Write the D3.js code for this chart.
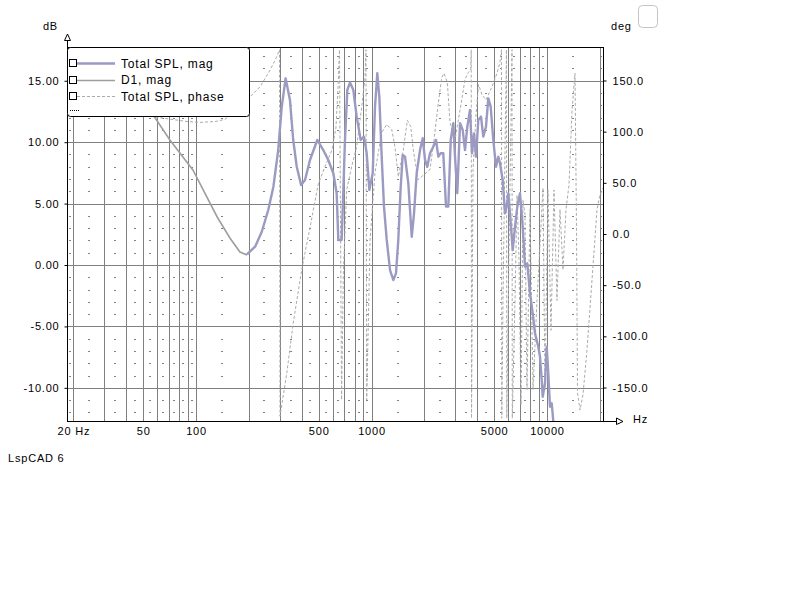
<!DOCTYPE html>
<html>
<head>
<meta charset="utf-8">
<script src="https://cdn.jsdelivr.net/npm/d3@7"></script>
<style>
  body { margin: 0; background: #fff; }
  svg { display: block; font-family: "Liberation Sans", Arial, sans-serif; }
</style>
</head>
<body>
<svg id="chart" width="800" height="600"></svg>
<script>
// axis ticks
const freqTicks = [20, 50, 100, 500, 1000, 5000, 10000];
const freqTickLabels = ["20 Hz", "50", "100", "500", "1000", "5000", "10000"];
const dbTicks = [-10, -5, 0, 5, 10, 15];
const degTicks = [-150, -100, -50, 0, 50, 100, 150];

// Total SPL, mag
const splFreq = [195,217,237,258,276,294,308,324,343,358,
  375,397,418,446,491,531,567,606,633,647,
  676,691,706,728,754,788,823,868,906,939,
  972,1016,1047,1079,1108,1143,1178,1221,1275,1331,
  1379,1421,1467,1506,1552,1621,1695,1747,1809,1890,
  1958,2018,2079,2154,2249,2331,2403,2479,2565,2658,
  2739,2827,2925,2991,3082,3194,3309,3410,3515,3641,
  3738,3837,3939,4060,4206,4335,4491,4629,4777,4943,
  5121,5278,5397,5592,5763,5893,6018,6154,6376,6572,
  6773,7017,7270,7493,7722,8001,8289,8543,8922,9123,
  9329,9452,9741,9961,10170,10400,10640,10860,11030];
const splDb = [0.86,1.49,2.71,4.48,6.38,9.36,12.89,15.2,13.44,10.18,
  8.0,6.51,6.92,8.55,10.18,9.36,8.55,7.47,5.84,2.04,
  2.04,6.11,10.18,14.25,14.85,14.25,12.08,10.18,10.45,9.1,
  6.11,7.47,12.89,15.61,13.7,8.82,4.75,2.04,-0.41,-1.22,
  -0.68,2.04,6.38,8.96,8.82,6.65,2.3,4.21,7.47,9.36,
  10.32,8.55,8.0,9.1,9.63,10.18,8.82,9.1,9.1,4.75,
  4.75,10.18,11.54,8.82,5.84,11.54,10.99,9.36,11.26,12.62,
  9.1,10.72,8.82,11.81,12.08,10.45,11.26,13.57,12.89,10.18,
  8.0,8.82,8.28,6.92,4.21,4.75,5.84,4.21,1.22,3.12,
  4.75,5.84,3.12,-0.14,0.14,-2.3,-3.93,-5.56,-6.65,-7.47,
  -9.36,-10.72,-9.63,-6.65,-8.82,-11.54,-11.26,-12.7,-14];

// D1, mag
const d1Freq = [18.4,28.4,42,57,71,96,132,156,178,195];
const d1Db = [16.86,15.88,14.09,12.21,10.18,7.74,3.91,2.2,1.06,0.81];

// Total SPL, phase (wrapped, deg)
const phaseFreq = [18.4,32.4,54.7,87.7,105,130,146,167,195,232,
  264,286,299,301,329,358,400,446,496,543,
  595,627,644,657,675,691,722,771,823,879,
  918,930,939,981,1047,1143,1221,1304,1361,1421,
  1518,1600,1673,1731,1841,1991,2154,2270,2403,2512,
  2589,2704,2802,2991,3266,3410,3562,3675,3700,3715,
  3788,3939,4072,4263,4491,4860,5190,5397,5504,5526,
  5614,5763,5877,5900,6073,6235,6317,6342,6572,6747,
  6926,7110,7300,7493,7691,8001,8322,8770,9489,9741,
  10130,10540,10960,11400,11860,12340,12830,13350,13890,14440,
  14730,14920,15420,16040,16900,18050,19270,20040,20850];
const phaseDeg = [131,123,115,110,109,110,112,119,131,144,
  160,172,180,-178,-136,-87,-35,6,48,66,
  82,104,141,180,-162,-38,43,66,85,124,
  152,180,-162,-6,60,99,107,102,85,56,
  82,111,105,82,53,58,63,92,128,153,
  157,148,109,92,131,151,158,160,180,-180,
  63,116,146,136,131,144,157,168,180,-180,
  -65,82,180,-180,-16,111,180,-180,-65,38,
  -25,-167,33,19,-152,24,-152,-65,45,-152,
  43,-94,43,-65,24,-35,24,48,121,157,
  4,-155,-172,-157,-113,-45,24,38,45];

const legendNames = ["Total SPL, mag", "D1, mag", "Total SPL, phase"];

const plotLeft = 67, plotRight = 603, plotTop = 47, plotBottom = 421;

const svg = d3.select("#chart");

const x = d3.scaleLog().domain([18.4, 20850]).range([plotLeft, plotRight]);
const yDb = d3.scaleLinear().domain([-12.7, 17.75]).range([plotBottom, plotTop]);
const yDeg = d3.scaleLinear().domain([-182.7, 182.7]).range([plotBottom, plotTop]);

const px = v => Math.round(v) + 0.5;

// grid: 1..9 per decade
const gridFreqs = [];
[10, 100, 1000, 10000].forEach(dec => {
  for (let k = 1; k <= 9; k++) {
    const f = dec * k;
    if (f >= 20 && f <= 20000) gridFreqs.push(f);
  }
});

const grid = svg.append("g").attr("shape-rendering", "crispEdges");

grid.selectAll("line.v")
  .data(gridFreqs)
  .enter()
  .append("line")
  .attr("x1", d => px(x(d)))
  .attr("x2", d => px(x(d)))
  .attr("y1", plotTop)
  .attr("y2", plotBottom)
  .attr("stroke", "#808080");

grid.selectAll("line.h")
  .data(dbTicks)
  .enter()
  .append("line")
  .attr("x1", plotLeft)
  .attr("x2", plotRight)
  .attr("y1", d => px(yDb(d)))
  .attr("y2", d => px(yDb(d)))
  .attr("stroke", "#808080");

// dotted 1 dB grid: one short dash in the middle of each gap
const bounds = [x.domain()[0]].concat(gridFreqs, [x.domain()[1]]);
const mids = d3.pairs(bounds).map(p => Math.sqrt(p[0] * p[1]));
const minorDb = d3.range(-12, 18).filter(d => d % 5 !== 0);
minorDb.forEach(db => {
  grid.selectAll(null)
    .data(mids)
    .enter()
    .append("rect")
    .attr("x", d => Math.round(x(d)) - 1)
    .attr("y", Math.round(yDb(db)))
    .attr("width", 2)
    .attr("height", 1)
    .attr("fill", "#808080");
});

// curves
svg.append("clipPath").attr("id", "plot")
  .append("rect")
  .attr("x", plotLeft).attr("y", plotTop)
  .attr("width", plotRight - plotLeft).attr("height", plotBottom - plotTop);

const curves = svg.append("g").attr("clip-path", "url(#plot)");

const phaseLine = d3.line()
  .x((d, i) => x(phaseFreq[i]))
  .y(d => yDeg(d));

curves.append("path")
  .datum(phaseDeg)
  .attr("d", phaseLine)
  .attr("fill", "none")
  .attr("stroke", "#ababab")
  .attr("stroke-width", 1)
  .attr("stroke-dasharray", "3,2");

const d1Line = d3.line()
  .x((d, i) => x(d1Freq[i]))
  .y(d => yDb(d));

curves.append("path")
  .datum(d1Db)
  .attr("d", d1Line)
  .attr("fill", "none")
  .attr("stroke", "#9e9e9e")
  .attr("stroke-width", 1.6);

const splLine = d3.line()
  .x((d, i) => x(splFreq[i]))
  .y(d => yDb(d));

curves.append("path")
  .datum(splDb)
  .attr("d", splLine)
  .attr("fill", "none")
  .attr("stroke", "#9a9ac2")
  .attr("stroke-width", 2.4)
  .attr("stroke-linejoin", "round");

// frame
svg.append("line")
  .attr("x1", plotLeft).attr("x2", plotRight)
  .attr("y1", plotTop + 0.5).attr("y2", plotTop + 0.5)
  .attr("stroke", "#000");
svg.append("line")
  .attr("x1", plotRight + 0.5).attr("x2", plotRight + 0.5)
  .attr("y1", plotTop).attr("y2", plotBottom)
  .attr("stroke", "#000");
svg.append("line")
  .attr("x1", plotLeft + 0.5).attr("x2", plotLeft + 0.5)
  .attr("y1", 40).attr("y2", plotBottom + 0.5)
  .attr("stroke", "#000");
svg.append("line")
  .attr("x1", plotLeft).attr("x2", 616)
  .attr("y1", plotBottom + 0.5).attr("y2", plotBottom + 0.5)
  .attr("stroke", "#000");
svg.append("path")
  .attr("d", "M64.5,40.5 L70.5,40.5 L67.5,34 Z")
  .attr("fill", "#fff").attr("stroke", "#000");
svg.append("path")
  .attr("d", "M616.5,418 L616.5,424.5 L623,421.5 Z")
  .attr("fill", "#fff").attr("stroke", "#000");

// axes
function styleAxis(g) {
  g.select(".domain").remove();
  g.attr("font-family", null).attr("font-size", null);
  g.selectAll("text")
    .attr("fill", "#000")
    .style("font-size", "11px")
    .style("letter-spacing", "0.8px");
  g.selectAll("line").attr("stroke", "#000");
}

svg.append("g")
  .attr("transform", `translate(${plotLeft + 0.5},0)`)
  .call(d3.axisLeft(yDb).tickValues(dbTicks).tickFormat(d => d.toFixed(2)).tickSize(3).tickPadding(5))
  .call(styleAxis);

svg.append("g")
  .attr("transform", `translate(${plotRight + 0.5},0)`)
  .call(d3.axisRight(yDeg).tickValues(degTicks).tickFormat(d => d.toFixed(1)).tickSize(3).tickPadding(6))
  .call(styleAxis);

svg.append("g")
  .attr("transform", `translate(0,${plotBottom})`)
  .call(d3.axisBottom(x).tickValues(freqTicks).tickFormat((d, i) => freqTickLabels[i]).tickSize(0).tickPadding(6))
  .call(styleAxis);

const label = (tx, ty, t, anchor) => svg.append("text")
  .attr("x", tx).attr("y", ty)
  .attr("text-anchor", anchor || "start")
  .style("font-size", "11px")
  .style("letter-spacing", "0.8px")
  .text(t);

label(58, 30, "dB", "end");
label(611, 30, "deg");
label(633, 423, "Hz");
label(8, 462, "LspCAD 6");

svg.append("rect")
  .attr("x", 638.5).attr("y", 5.5)
  .attr("width", 19).attr("height", 22)
  .attr("rx", 4)
  .attr("fill", "#fff")
  .attr("stroke", "#c4c4c4");

// legend
const legend = svg.append("g");
legend.append("rect")
  .attr("x", plotLeft + 0.5).attr("y", plotTop + 0.5)
  .attr("width", 182).attr("height", 69)
  .attr("rx", 3)
  .attr("fill", "#fff")
  .attr("stroke", "#000");

const legendStyles = [
  { stroke: "#9a9ac2", width: 2.4, dash: null },
  { stroke: "#9e9e9e", width: 1.4, dash: null },
  { stroke: "#ababab", width: 1, dash: "3,2" }
];
const rowY = [63, 79.5, 96];

legendNames.forEach((name, i) => {
  const yy = rowY[i];
  legend.append("rect")
    .attr("x", 69.5).attr("y", Math.round(yy) - 3.5)
    .attr("width", 7).attr("height", 7)
    .attr("fill", "#fff").attr("stroke", "#000");
  legend.append("line")
    .attr("x1", 77).attr("x2", 115)
    .attr("y1", Math.round(yy) + 0.5).attr("y2", Math.round(yy) + 0.5)
    .attr("stroke", legendStyles[i].stroke)
    .attr("stroke-width", legendStyles[i].width)
    .attr("stroke-dasharray", legendStyles[i].dash);
  legend.append("text")
    .attr("x", 121).attr("y", yy)
    .attr("dy", "0.38em")
    .style("font-size", "12px")
    .style("letter-spacing", "0.8px")
    .text(name);
});

legend.append("line")
  .attr("x1", 70).attr("x2", 79)
  .attr("y1", 110.5).attr("y2", 110.5)
  .attr("stroke", "#000")
  .attr("stroke-dasharray", "1,1");
</script>
</body>
</html>
